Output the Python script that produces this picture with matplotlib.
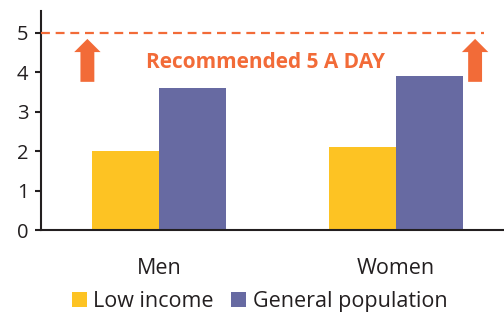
import numpy as np
import matplotlib.pyplot as plt

plt.rcParams['font.family'] = ['Open Sans', 'DejaVu Sans']

groups = ['Men', 'Women']
low_income = [2.0, 2.1]
general_pop = [3.6, 3.9]
target = 5
labels = ['Low income', 'General population']

orange = '#F26B38'
yellow = '#FDC323'
purple = '#676AA2'
dark = '#231F20'


def draw_bar():
    fig = plt.figure(figsize=(5.04, 3.14), dpi=100)
    ax = fig.add_axes([0.0813, 0.2675, 0.9187, 0.6965])

    ind = np.arange(len(groups))
    width = 0.283
    r1 = ax.bar(ind - width / 2, low_income, width, color=yellow, label=labels[0])
    r2 = ax.bar(ind + width / 2, general_pop, width, color=purple, label=labels[1])

    # recommended line, arrows and label
    ax.plot([-0.5, 1.371], [target, target], color=orange, lw=1.6,
            dashes=(4, 2.6), clip_on=False, zorder=3)
    for x in (-0.304, 1.333):
        ax.annotate('', xy=(x, target - 0.15), xytext=(x, target - 1.24),
                    arrowprops=dict(arrowstyle='simple,head_width=1.9,head_length=0.95,tail_width=1.0',
                                    mutation_scale=10, color=orange, lw=0,
                                    shrinkA=0, shrinkB=0))
    ax.text(0.45, 4.26, 'Recommended 5 A DAY', color=orange, fontsize=15,
            fontweight='bold', ha='center', va='center')

    ax.set_xlim(-0.5, 1.455)
    ax.set_ylim(0, 5.55)
    ax.set_yticks(range(0, 6))
    ax.set_xticks(ind)
    ax.set_xticklabels(groups)

    for s in ('top', 'right'):
        ax.spines[s].set_visible(False)
    for s in ('left', 'bottom'):
        ax.spines[s].set_color(dark)
        ax.spines[s].set_linewidth(1.5)
    ax.tick_params(axis='y', length=4, width=1.5, color=dark, labelsize=14.5,
                   labelcolor=dark, pad=5)
    ax.tick_params(axis='x', length=0, labelsize=15.5, labelcolor=dark, pad=20)

    fig.legend(handles=[r1, r2], labels=labels, loc='lower center',
               bbox_to_anchor=(0.515, -0.055), ncol=2, frameon=False,
               fontsize=15.5, handlelength=0.7, handleheight=0.7,
               handletextpad=0.3, columnspacing=0.8, labelcolor=dark)

    plt.savefig('out.png', dpi=100)


if __name__ == '__main__':
    draw_bar()
